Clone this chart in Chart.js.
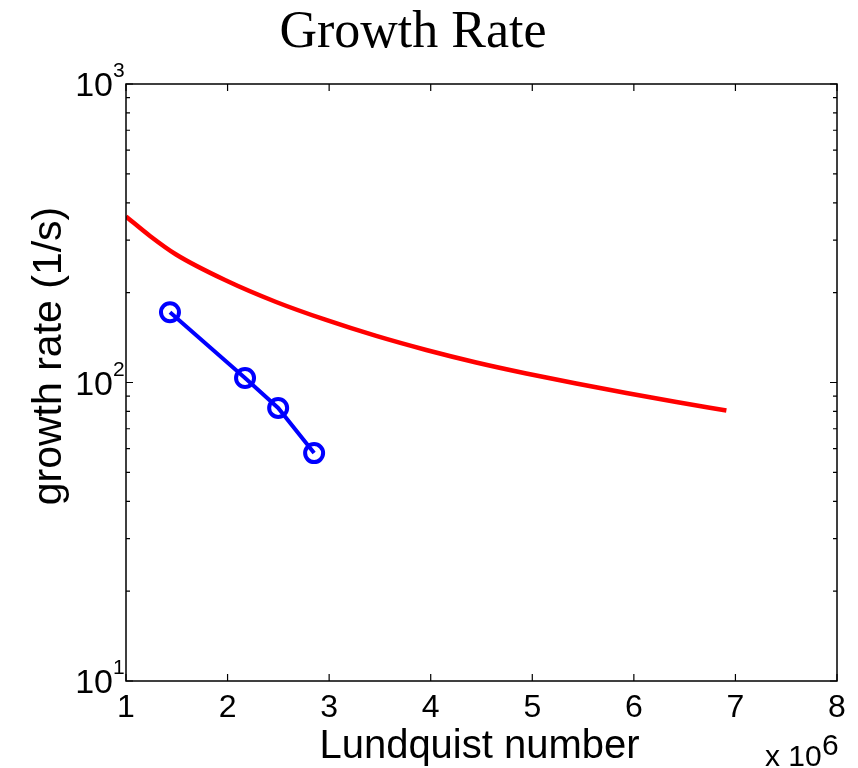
<!DOCTYPE html>
<html>
<head>
<meta charset="utf-8">
<script src="https://cdn.jsdelivr.net/npm/chart.js@4"></script>
<style>
  html, body { margin: 0; padding: 0; background: #fff; }
  #wrap { width: 858px; height: 768px; }
</style>
</head>
<body>
<div id="wrap"><canvas id="myChart" width="858" height="768"></canvas></div>
<script>
// Lundquist number (x 10^6) vs growth rate (1/s)
const theoryX = [1.000, 1.236, 1.493, 1.985, 2.478, 2.970, 3.463, 3.956, 4.448, 4.941, 5.433, 5.926, 6.419, 6.911];
const theoryY = [359.9, 309.7, 268.4, 219.6, 186.1, 162.0, 143.2, 128.5, 116.7, 107.2, 99.2, 92.2, 86.0, 80.6];

const simX = [1.433, 2.172, 2.498, 2.852];
const simY = [172, 103.5, 82.2, 58.0];

const xTicks = [1, 2, 3, 4, 5, 6, 7, 8];
const yMajorTicks = [10, 100, 1000];
const yMajorExp = ['1', '2', '3'];
const yMinorTicks = [20, 30, 40, 50, 60, 70, 80, 90, 200, 300, 400, 500, 600, 700, 800, 900];

const titleText = 'Growth Rate';
const xTitle = 'Lundquist number';
const yTitle = 'growth rate (1/s)';

function toPoints(xs, ys) {
  return xs.map((x, i) => ({ x: x, y: ys[i] }));
}

// draws the matlab-style box, inward ticks and all the text
const matlabAxes = {
  id: 'matlabAxes',
  afterDraw(chart) {
    const ctx = chart.ctx;
    const xs = chart.scales.x;
    const ys = chart.scales.y;
    const a = chart.chartArea;
    ctx.save();
    ctx.strokeStyle = '#000';
    ctx.lineWidth = 1.5;
    ctx.strokeRect(a.left, a.top, a.right - a.left, a.bottom - a.top);

    ctx.lineWidth = 1.2;
    ctx.beginPath();
    xTicks.forEach(v => {
      const px = xs.getPixelForValue(v);
      ctx.moveTo(px, a.bottom); ctx.lineTo(px, a.bottom - 7);
      ctx.moveTo(px, a.top); ctx.lineTo(px, a.top + 7);
    });
    yMajorTicks.forEach(v => {
      const py = ys.getPixelForValue(v);
      ctx.moveTo(a.left, py); ctx.lineTo(a.left + 7, py);
      ctx.moveTo(a.right, py); ctx.lineTo(a.right - 7, py);
    });
    yMinorTicks.forEach(v => {
      const py = ys.getPixelForValue(v);
      ctx.moveTo(a.left, py); ctx.lineTo(a.left + 4, py);
      ctx.moveTo(a.right, py); ctx.lineTo(a.right - 4, py);
    });
    ctx.stroke();

    ctx.fillStyle = '#000';
    // x tick labels
    ctx.font = '32px "Liberation Sans", Arial, sans-serif';
    ctx.textAlign = 'center';
    ctx.textBaseline = 'alphabetic';
    xTicks.forEach(v => {
      ctx.fillText(String(v), xs.getPixelForValue(v), a.bottom + 36);
    });

    // y tick labels 10^n
    yMajorTicks.forEach((v, i) => {
      const py = ys.getPixelForValue(v);
      ctx.font = '34px "Liberation Sans", Arial, sans-serif';
      ctx.textAlign = 'right';
      ctx.fillText('10', a.left - 13, py + 12);
      ctx.font = '21px "Liberation Sans", Arial, sans-serif';
      ctx.textAlign = 'left';
      ctx.fillText(yMajorExp[i], a.left - 13, py - 7);
    });

    // x 10^6 multiplier
    ctx.font = '30px "Liberation Sans", Arial, sans-serif';
    ctx.textAlign = 'left';
    ctx.fillText('x 10', 765, 766);
    ctx.fillText('6', 822, 755);

    // axis titles
    ctx.font = '40px "Liberation Sans", Arial, sans-serif';
    ctx.textAlign = 'center';
    ctx.fillText(xTitle, (a.left + a.right) / 2 - 2, 758);
    ctx.save();
    ctx.translate(61, 356);
    ctx.rotate(-Math.PI / 2);
    ctx.font = '41px "Liberation Sans", Arial, sans-serif';
    ctx.fillText(yTitle, 0, 0);
    ctx.restore();

    // title
    ctx.font = '52px "Liberation Serif", "Times New Roman", serif';
    ctx.fillText(titleText, 413, 47);
    ctx.restore();
  }
};

function makeChart() {
  const ctx = document.getElementById('myChart');
  const myChart = new Chart(ctx, {
    type: 'line',
    data: {
      datasets: [{
        label: 'theory',
        data: toPoints(theoryX, theoryY),
        borderColor: '#ff0000',
        borderWidth: 4.5,
        pointRadius: 0,
        cubicInterpolationMode: 'monotone',
        fill: false
      }, {
        label: 'simulation',
        data: toPoints(simX, simY),
        borderColor: '#0000ff',
        borderWidth: 4,
        pointRadius: 9,
        pointBorderWidth: 4,
        pointBorderColor: '#0000ff',
        pointBackgroundColor: 'rgba(0,0,0,0)',
        tension: 0,
        fill: false
      }]
    },
    options: {
      responsive: false,
      animation: false,
      layout: {
        padding: { left: 126, right: 21, top: 84, bottom: 87 }
      },
      plugins: {
        legend: { display: false },
        title: { display: false },
        tooltip: { enabled: false }
      },
      scales: {
        x: {
          type: 'linear',
          min: 1,
          max: 8,
          display: false
        },
        y: {
          type: 'logarithmic',
          min: 10,
          max: 1000,
          display: false
        }
      }
    },
    plugins: [matlabAxes]
  });
  return myChart;
}

makeChart();
</script>
</body>
</html>
